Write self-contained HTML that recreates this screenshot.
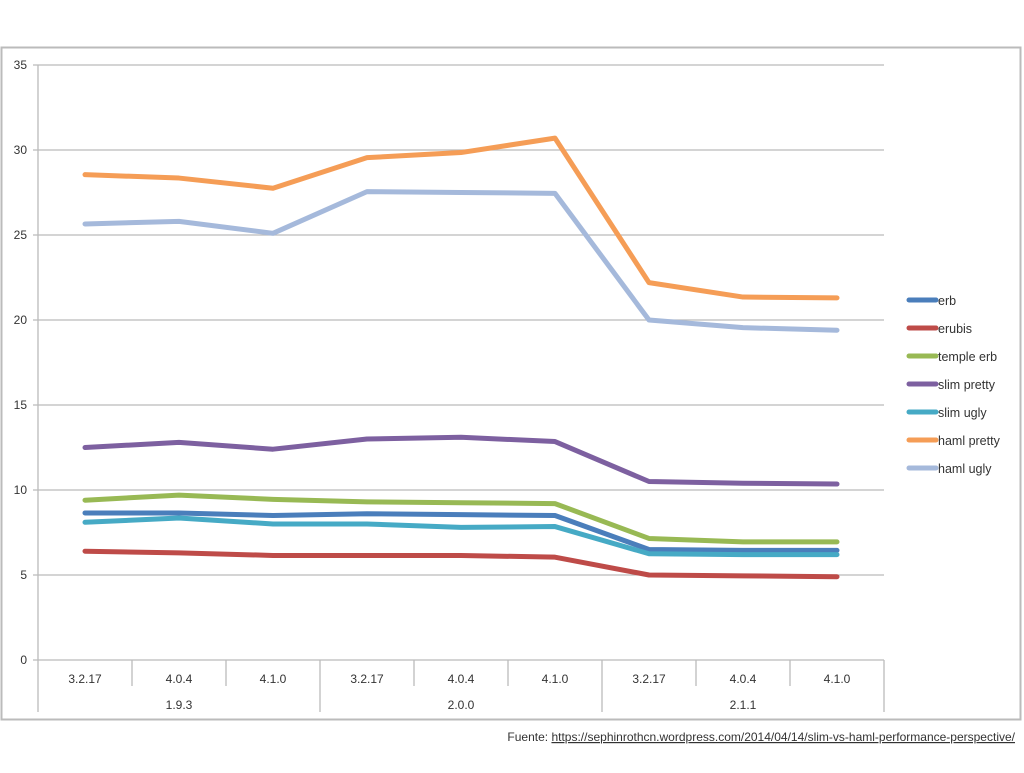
<!DOCTYPE html>
<html><head><meta charset="utf-8"><style>
body{margin:0;background:#fff;width:1024px;height:768px;overflow:hidden;font-family:"Liberation Sans",sans-serif}
svg text{font-family:"Liberation Sans",sans-serif;fill:#333}
</style></head><body>
<svg id="c" width="1024" height="768">
<rect x="1.5" y="47.5" width="1019" height="672" fill="#fff" stroke="#bbb" stroke-width="2"/>
<g id="grid"></g><g id="xaxis"></g><g id="lines"></g><g id="legend"></g>
<text x="1015" y="741" font-size="12" text-anchor="end">Fuente: <tspan text-decoration="underline">https://sephinrothcn.wordpress.com/2014/04/14/slim-vs-haml-performance-perspective/</tspan></text>
</svg>
<script>
const categories=["3.2.17","4.0.4","4.1.0","3.2.17","4.0.4","4.1.0","3.2.17","4.0.4","4.1.0"];
const groups=["1.9.3","2.0.0","2.1.1"];
const yTicks=[0,5,10,15,20,25,30,35];
const seriesNames=["erb","erubis","temple erb","slim pretty","slim ugly","haml pretty","haml ugly"];
const seriesColors=["#4a7ebb","#be4b48","#98b954","#7d60a0","#46aac5","#f59d56","#a5b9db"];
const erb=[8.65,8.65,8.5,8.6,8.55,8.5,6.5,6.45,6.45];
const erubis=[6.4,6.3,6.15,6.15,6.15,6.05,5.0,4.95,4.9];
const templeErb=[9.4,9.7,9.45,9.3,9.25,9.2,7.15,6.95,6.95];
const slimPretty=[12.5,12.8,12.4,13.0,13.1,12.85,10.5,10.4,10.35];
const slimUgly=[8.1,8.35,8.0,8.0,7.8,7.85,6.25,6.2,6.2];
const hamlPretty=[28.55,28.35,27.75,29.55,29.85,30.7,22.2,21.35,21.3];
const hamlUgly=[25.65,25.8,25.1,27.55,27.5,27.45,20.0,19.55,19.4];
const allSeries=[erb,erubis,templeErb,slimPretty,slimUgly,hamlPretty,hamlUgly];
const drawOrder=[5,6,3,2,0,4,1];
const NS="http://www.w3.org/2000/svg";
const L=38,R=884,T=65,B=660,YMAX=35;
const cw=(R-L)/categories.length;
const x=i=>L+cw*(i+0.5);
const y=v=>B-(v/YMAX)*(B-T);
function mk(t,a,p){const e=document.createElementNS(NS,t);for(const k in a)e.setAttribute(k,a[k]);p.appendChild(e);return e;}
const g=document.getElementById('grid');
yTicks.forEach(v=>{
 const l=mk('line',{x1:33,x2:R,y1:y(v),y2:y(v),stroke:'#bbb','stroke-width':1.3},g);
 
 
 const t=mk('text',{x:27,y:y(v)+4,'font-size':12,'text-anchor':'end'},g);t.textContent=v;
 
 
});
mk('line',{x1:L,x2:L,y1:T,y2:B,stroke:'#bbb','stroke-width':1.3},g);
const xa=document.getElementById('xaxis');
categories.forEach((c,i)=>{
 const t=mk('text',{x:x(i),y:683,'font-size':12,'text-anchor':'middle'},xa);t.textContent=c;
 
 
 if(i>0&&i%3!==0) mk('line',{x1:L+cw*i,x2:L+cw*i,y1:B,y2:686,stroke:'#bbb','stroke-width':1.3},xa);
});
for(let k=0;k<=groups.length;k++){
 const gx=L+cw*3*k;
 mk('line',{x1:gx,x2:gx,y1:B,y2:712,stroke:'#bbb','stroke-width':1.3},xa);
 if(k<groups.length){const t=mk('text',{x:L+cw*(3*k+1.5),y:709,'font-size':12,'text-anchor':'middle'},xa);t.textContent=groups[k];
 
 }
}
const lg=document.getElementById('lines');
drawOrder.forEach(s=>{
 const p=mk('polyline',{points:allSeries[s].map((v,i)=>x(i)+','+y(v)).join(' '),fill:'none',stroke:seriesColors[s],'stroke-width':5,'stroke-linejoin':'round','stroke-linecap':'round'},lg);
 
 
});
const le=document.getElementById('legend');
seriesNames.forEach((n,i)=>{
 const yy=300+i*28;
 const gi=mk('g',{},le);
 
 
 mk('line',{x1:909,x2:936,y1:yy,y2:yy,stroke:seriesColors[i],'stroke-width':5,'stroke-linecap':'round'},gi);
 const t=mk('text',{x:938,y:yy+5,'font-size':12.5},gi);t.textContent=n;
});
</script>
</body></html>
